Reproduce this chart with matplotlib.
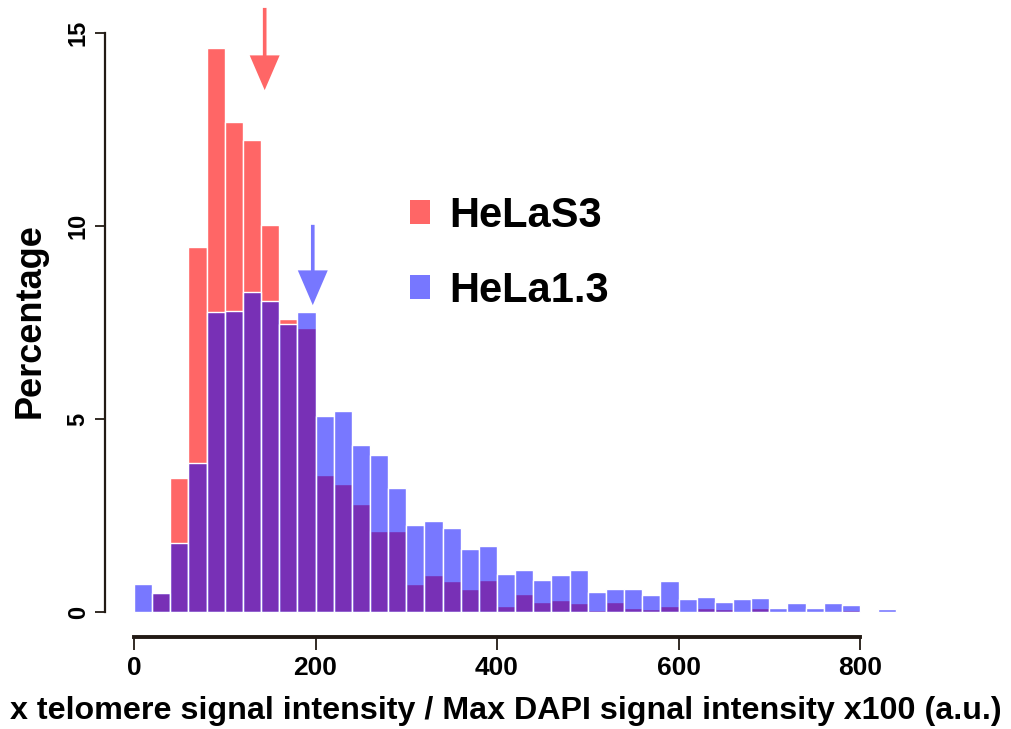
import matplotlib
matplotlib.use("Agg")
import matplotlib.pyplot as plt
from matplotlib.patches import Patch

# histogram bins of width 20, from 0 to 840
bin_left = list(range(0, 840, 20))
hela_s3 = [0, 0.5, 3.48, 9.45, 14.62, 12.69, 12.23, 10.03, 7.6, 7.35,
           3.55, 3.32, 2.80, 2.11, 2.11, 0.72, 0.95, 0.81, 0.59, 0.83,
           0.16, 0.47, 0.27, 0.30, 0.23, 0.05, 0.27, 0.10, 0.08, 0.16,
           0, 0.10, 0.08, 0, 0.10, 0, 0, 0, 0, 0.04, 0, 0]
hela_13 = [0.72, 0.5, 1.78, 3.85, 7.78, 7.8, 8.3, 8.06, 7.46, 7.77,
           5.08, 5.21, 4.33, 4.06, 3.2, 2.25, 2.36, 2.18, 1.64, 1.71,
           0.98, 1.09, 0.82, 0.95, 1.09, 0.53, 0.6, 0.6, 0.44, 0.8,
           0.33, 0.4, 0.27, 0.33, 0.36, 0.1, 0.23, 0.1, 0.23, 0.19, 0.02, 0.08]
labels = ["HeLaS3", "HeLa1.3"]
# arrows marking the means
arrow_x = [144, 197]
arrow_top = [15.65, 10.03]
arrow_tip = [13.52, 7.95]

red = (1, 0, 0, 0.6)
blue = (0, 0, 1, 0.53)
red_solid = "#ff6666"
blue_solid = "#7777ff"
axis_col = "#221a14"
font = "Liberation Sans"

fig = plt.figure(figsize=(10.11, 7.29), dpi=100)
W, H = 1011, 729
ax = fig.add_axes([105 / W, 1 - 637 / H, (900 - 105) / W, (637 - 5) / H])

ax.set_xlim(-29 / 0.9075, (900 - 134) / 0.9075)
ax.set_ylim((612 - 637) / 38.6, (612 - 5) / 38.6)

ax.bar(bin_left, hela_s3, width=20, align="edge", facecolor=red, edgecolor="white", linewidth=1)
ax.bar(bin_left, hela_13, width=20, align="edge", facecolor=blue, edgecolor="white", linewidth=1)

for xa, yt, yb, c in zip(arrow_x, arrow_top, arrow_tip, [red_solid, blue_solid]):
    ax.arrow(xa, yt, 0, yb - yt, width=4, head_width=33, head_length=0.9,
             length_includes_head=True, color=c, clip_on=False, linewidth=0)

for s in ["top", "right"]:
    ax.spines[s].set_visible(False)
ax.spines["left"].set_bounds(0, 15)
ax.spines["bottom"].set_bounds(0, 800)
ax.spines["left"].set_linewidth(1.6)
ax.spines["bottom"].set_linewidth(2.8)
ax.spines["left"].set_color(axis_col)
ax.spines["bottom"].set_color(axis_col)

ax.set_xticks([0, 200, 400, 600, 800])
ax.set_yticks([0, 5, 10, 15])
ax.tick_params(axis="x", length=9, width=1.3, color=axis_col, pad=5)
ax.tick_params(axis="y", length=7, width=1.3, color=axis_col, pad=4)
for t in ax.get_xticklabels():
    t.set_fontfamily(font)
    t.set_fontweight("bold")
    t.set_fontsize(19)
for t in ax.get_yticklabels():
    t.set_fontfamily(font)
    t.set_fontweight("bold")
    t.set_fontsize(17)
    t.set_rotation(90)
    t.set_va("center")

ax.set_ylabel("Percentage", fontfamily=font, fontweight="bold", fontsize=26, labelpad=14)
fig.text(0.5, 1 - 711 / H, "x telomere signal intensity / Max DAPI signal intensity x100 (a.u.)",
         fontfamily=font, fontweight="bold", fontsize=23.2, ha="center", va="center")

handles = [Patch(facecolor=red_solid, edgecolor="none"), Patch(facecolor=blue_solid, edgecolor="none")]
fig.legend(handles, labels, loc="upper left", bbox_to_anchor=(372 / W, 1 - 158 / H), frameon=False,
           prop={"family": font, "weight": "bold", "size": 30},
           handlelength=0.5, handleheight=0.5, handletextpad=0.45, labelspacing=0.85)

fig.savefig("out.png", dpi=100)
